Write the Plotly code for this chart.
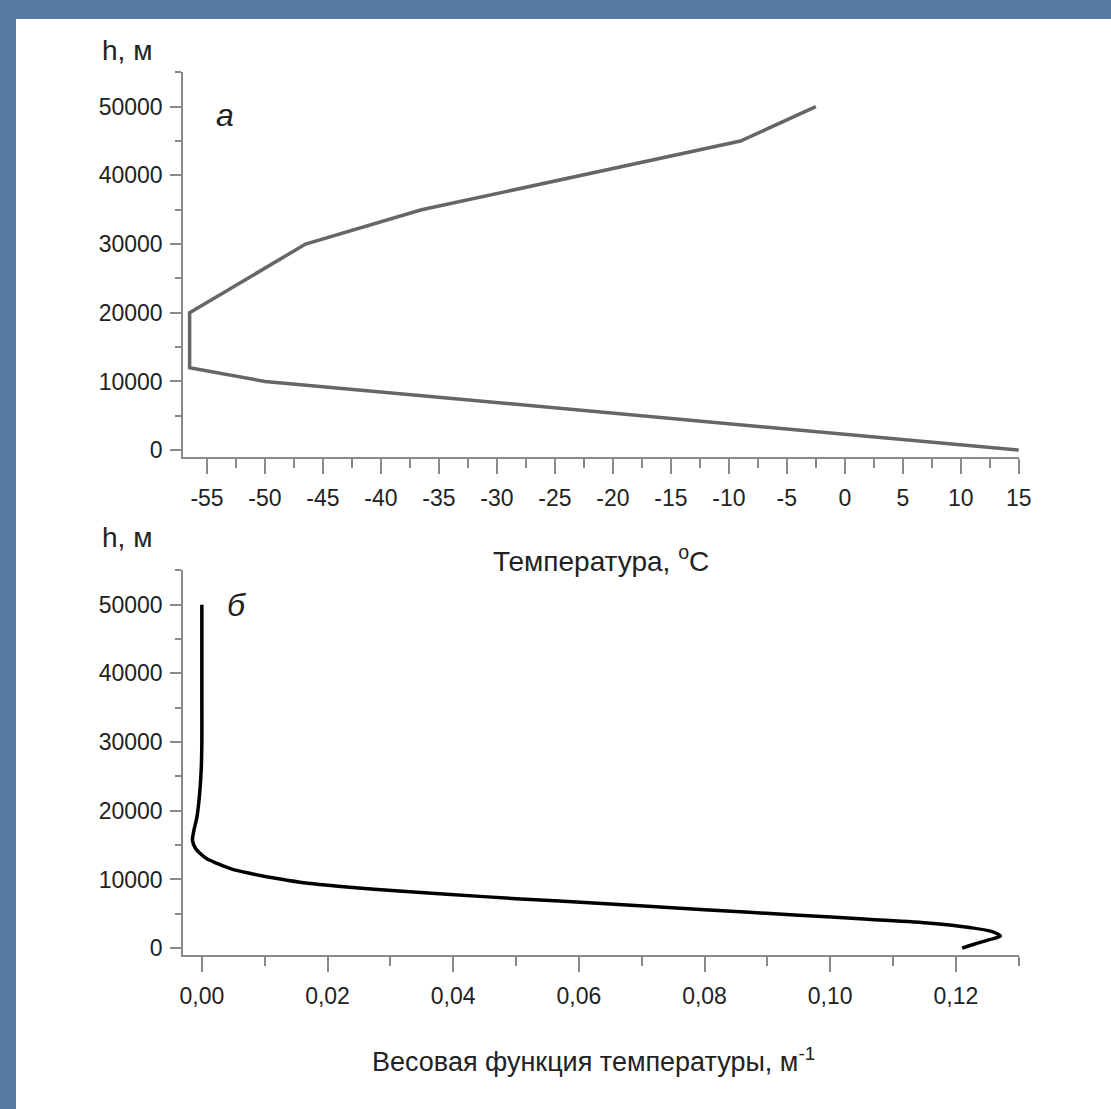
import plotly.graph_objects as go

W, H = 1111, 1109

# ---- data (panel a: standard atmosphere temperature profile) ----
temp_c = [15, -50, -56.5, -56.5, -46.5, -36.5, -9, -2.5]
height_a = [0, 10000, 12000, 20000, 30000, 35000, 45000, 50000]

# ---- data (panel b: temperature weighting function) ----
height_b = [50000, 45000, 40000, 35000, 30000, 26000, 22000, 19000, 17000, 15700,
            14500, 13800, 13000, 12350, 11500, 10900, 10200, 9600, 8870, 8300,
            7850, 7200, 6540, 5600, 4800, 4200, 3630, 3000, 2400, 1740, 1200, 600, 0]
weight_b = [0.0, 0.0, 0.0, 0.0, 0.0, -0.0001, -0.0004, -0.0008, -0.0013, -0.0015,
            -0.0010, -0.0003, 0.0008, 0.0024, 0.0048, 0.0076, 0.0115, 0.0156, 0.0235, 0.0314,
            0.0390, 0.0500, 0.0630, 0.0800, 0.0950, 0.1060, 0.1160, 0.1222, 0.1258, 0.1271, 0.1252, 0.1230, 0.1210]

# ---- tick labels ----
y_tickvals = [0, 10000, 20000, 30000, 40000, 50000]
y_ticktext = ["0", "10000", "20000", "30000", "40000", "50000"]
xa_tickvals = [-55, -50, -45, -40, -35, -30, -25, -20, -15, -10, -5, 0, 5, 10, 15]
xa_ticktext = ["-55", "-50", "-45", "-40", "-35", "-30", "-25", "-20", "-15", "-10", "-5", "0", "5", "10", "15"]
xb_tickvals = [0.0, 0.02, 0.04, 0.06, 0.08, 0.10, 0.12]
xb_ticktext = ["0,00", "0,02", "0,04", "0,06", "0,08", "0,10", "0,12"]

FONT = "Liberation Sans, Arial, sans-serif"
TXT = "#222222"
AX = "#8a8a8a"
BG = "#587aa3"


def px(x):
    return x / W


def py(y):
    return 1 - y / H


fig = go.Figure()
fig.add_trace(go.Scatter(x=temp_c, y=height_a, mode="lines",
                         line=dict(color="#666666", width=3.5),
                         xaxis="x", yaxis="y", showlegend=False))
fig.add_trace(go.Scatter(x=weight_b, y=height_b, mode="lines",
                         line=dict(color="#000000", width=3.5, shape="spline", smoothing=0.8),
                         xaxis="x2", yaxis="y2", showlegend=False))

common_y = dict(range=[-1000, 55050], tickvals=y_tickvals, ticktext=y_ticktext,
                ticks="outside", ticklen=11, tickwidth=1.5, tickcolor=AX,
                showline=True, linecolor=AX, linewidth=1.5, showgrid=False, zeroline=False,
                tickfont=dict(family=FONT, size=23, color=TXT), ticklabelstandoff=3,
                automargin=False,
                minor=dict(dtick=5000, tick0=0, ticks="outside", ticklen=6, tickwidth=1.5, tickcolor=AX))
common_x = dict(ticks="outside", ticklen=15, tickwidth=1.5, tickcolor=AX,
                showline=True, linecolor=AX, linewidth=1.5, showgrid=False, zeroline=False,
                tickfont=dict(family=FONT, size=23, color=TXT), ticklabelstandoff=5,
                automargin=False)

fig.update_layout(
    width=W, height=H,
    margin=dict(l=0, r=0, t=0, b=0, pad=0, autoexpand=False),
    paper_bgcolor=BG,
    plot_bgcolor="rgba(0,0,0,0)",
    xaxis=dict(domain=[px(183), px(1019)], anchor="y", range=[-57.07, 15.02],
               tickvals=xa_tickvals, ticktext=xa_ticktext,
               minor=dict(dtick=2.5, tick0=0, ticks="outside", ticklen=9, tickwidth=1.5, tickcolor=AX),
               **common_x),
    yaxis=dict(domain=[py(457), py(72)], anchor="x", **common_y),
    xaxis2=dict(domain=[px(183), px(1019)], anchor="y2", range=[-0.003, 0.13005],
                tickvals=xb_tickvals, ticktext=xb_ticktext,
                minor=dict(dtick=0.01, tick0=0, ticks="outside", ticklen=9, tickwidth=1.5, tickcolor=AX),
                **common_x),
    yaxis2=dict(domain=[py(955), py(570)], anchor="x2", **common_y),
    shapes=[dict(type="rect", xref="paper", yref="paper", x0=px(16), x1=1.05, y0=-0.05, y1=py(19),
                 fillcolor="white", line=dict(width=0), layer="below")],
)

ann = [
    ("h, м", 127, 51, 28, "normal"),
    ("h, м", 127, 537, 28, "normal"),
    ("Температура, <sup>o</sup>C", 601, 559, 28, "normal"),
    ("Весовая функция температуры, м<sup>-1</sup>", 593, 1060, 27, "normal"),
    ("а", 225, 115, 32, "italic"),
    ("б", 236, 605, 32, "italic"),
]
for text, x, y, size, style in ann:
    fig.add_annotation(text=text, xref="paper", yref="paper", x=px(x), y=py(y),
                       xanchor="center", yanchor="middle", showarrow=False,
                       font=dict(family=FONT, size=size, color=TXT, style=style))

css_js = ("var s=document.createElement('style');"
          "s.textContent='html,body{margin:0!important;padding:0!important;overflow:hidden!important;}';"
          "document.head.appendChild(s);")
fig.write_html("out.html", config={"displayModeBar": False}, post_script=css_js)
